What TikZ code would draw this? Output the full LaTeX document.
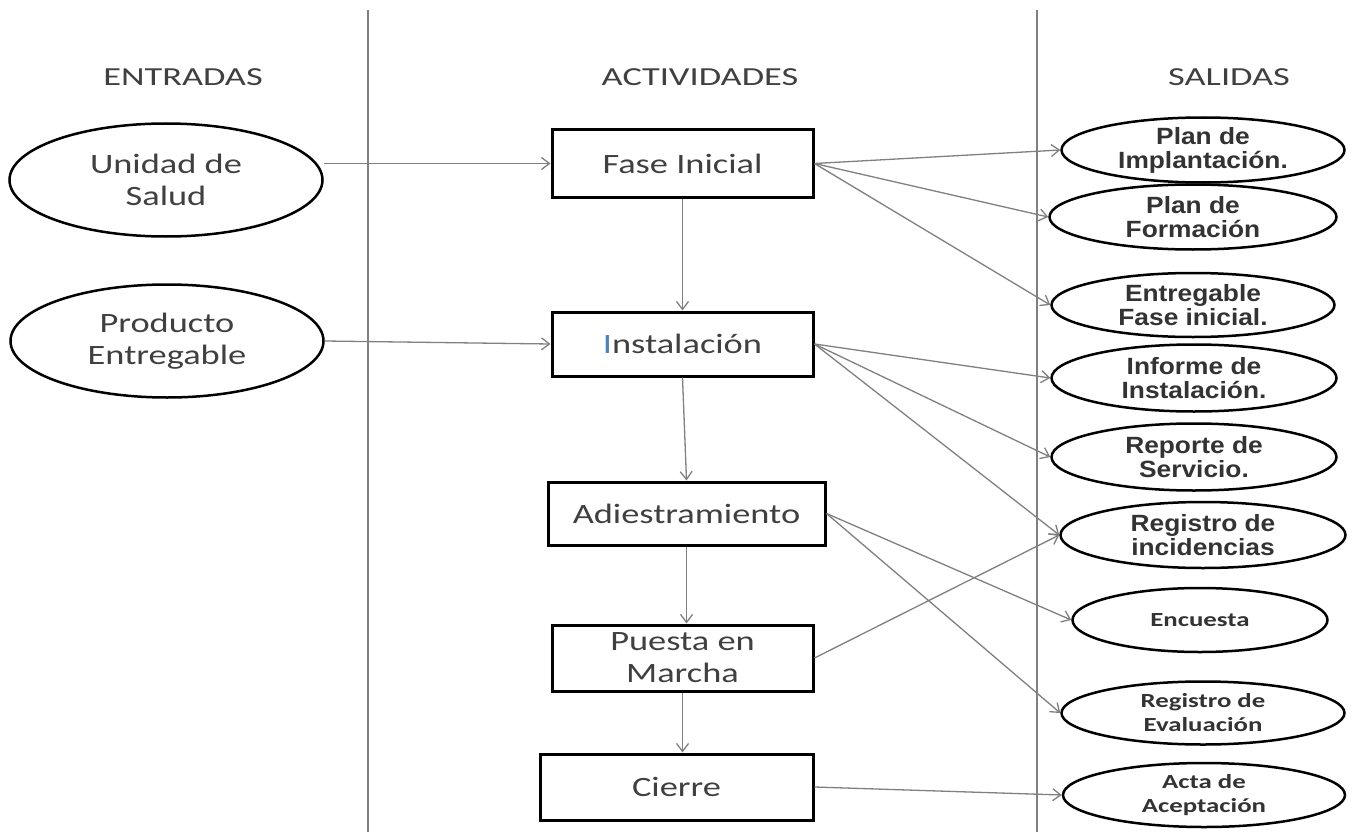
\documentclass[tikz,border=0pt]{standalone}
\usepackage{fontspec}
\usetikzlibrary{shapes.geometric,arrows.meta}
\newfontfamily\calf[FakeStretch=1.3]{Carlito}
\newfontfamily\headf[FakeStretch=1.4]{Carlito}
\newfontfamily\arf[FakeStretch=1.12]{Liberation Sans}
\newfontfamily\calbf[FakeStretch=1.34]{Carlito}
\definecolor{txt}{HTML}{404040}
\definecolor{ln}{HTML}{808080}
\definecolor{blueI}{HTML}{4F81BD}
\begin{document}
\begin{tikzpicture}[x=1pt,y=-1pt,
 inel/.style={ellipse, draw=black, line width=2.5pt, inner sep=0pt, minimum width=313pt, minimum height=113pt, align=center, text=txt, font=\calf\fontsize{28}{32}\selectfont},
 actbox/.style={rectangle, draw=black, line width=3pt, inner sep=0pt, align=center, text=txt, font=\calf\fontsize{28}{32}\selectfont},
 outel/.style={ellipse, draw=black, line width=2.5pt, inner sep=0pt, align=center, text=black!80, font=\arf\bfseries\fontsize{23.5}{24}\selectfont},
 outelc/.style={outel, font=\calbf\bfseries\fontsize{20}{24}\selectfont},
 head/.style={text=txt, font=\headf\fontsize{26}{30}\selectfont, inner sep=0pt},
 arr/.style={draw=ln, line width=1.3pt, -{Straight Barb[length=8pt,width=12pt]}},
 divider/.style={draw=ln, line width=2pt}]
\useasboundingbox (0,0) rectangle (1357,832);
\fill[white] (0,0) rectangle (1357,832);

% dividers
\draw[divider] (368,10) -- (368,832);
\draw[divider] (1037,10) -- (1037,832);

% headings
\node[head] (hin) at (183,77) {ENTRADAS};
\node[head] (hact) at (700,77) {ACTIVIDADES};
\node[head] (hout) at (1229,77) {SALIDAS};

% inputs
\node[inel] (unidad) at (166,180) {Unidad de\\Salud};
\node[inel] (producto) at (167,341) {Producto\\Entregable};

% activities
\node[actbox, minimum width=261pt, minimum height=67pt] (fase) at (682.5,163.5) {Fase Inicial};
\node[actbox, minimum width=261pt, minimum height=64pt] (inst) at (682.5,344) {{\color{blueI}I}nstalación};
\node[actbox, minimum width=277pt, minimum height=63pt] (adies) at (686.5,513.5) {Adiestramiento};
\node[actbox, minimum width=261pt, minimum height=66pt] (puesta) at (682.5,658) {Puesta en\\Marcha};
\node[actbox, minimum width=273pt, minimum height=66pt] (cierre) at (676.5,787) {Cierre};

% outputs
\node[outel, minimum width=283pt, minimum height=65pt] (pimpl) at (1203,150) {Plan de\\Implantación.};
\node[outel, minimum width=287pt, minimum height=65pt] (pform) at (1193,217) {Plan de\\Formación};
\node[outel, minimum width=283pt, minimum height=64pt] (entreg) at (1193,305) {Entregable\\Fase inicial.};
\node[outel, minimum width=285pt, minimum height=67pt] (inform) at (1194,378) {Informe de\\Instalación.};
\node[outel, minimum width=285pt, minimum height=67pt] (report) at (1194,457) {Reporte de\\Servicio.};
\node[outel, minimum width=285pt, minimum height=66pt] (reginc) at (1203,535) {Registro de\\incidencias};
\node[outelc, minimum width=255pt, minimum height=64pt] (encuesta) at (1200,620) {Encuesta};
\node[outelc, minimum width=283pt, minimum height=63pt] (regeval) at (1203,713) {Registro de\\Evaluación};
\node[outelc, minimum width=282pt, minimum height=64pt] (acta) at (1204,795) {Acta de\\Aceptación};

% input arrows
\draw[arr] (unidad.east |- fase.west) -- (fase.west);
\draw[arr] (producto.east) -- (inst.west);

% activity chain
\draw[arr] (fase.south) -- (inst.north);
\draw[arr] (inst.south) -- (adies.north);
\draw[arr] (adies.south) -- (adies.south |- puesta.north);
\draw[arr] (puesta.south) -- (puesta.south |- cierre.north);

% outputs arrows
\draw[arr] (fase.east) -- (pimpl.west);
\draw[arr] (fase.east) -- (pform.west);
\draw[arr] (fase.east) -- (entreg.west);
\draw[arr] (inst.east) -- (inform.west);
\draw[arr] (inst.east) -- (report.west);
\draw[arr] (inst.east) -- (reginc.west);
\draw[arr] (adies.east) -- (encuesta.west);
\draw[arr] (adies.east) -- (regeval.west);
\draw[arr] (puesta.east) -- (reginc.west);
\draw[arr] (cierre.east) -- (acta.west);
\end{tikzpicture}
\end{document}
